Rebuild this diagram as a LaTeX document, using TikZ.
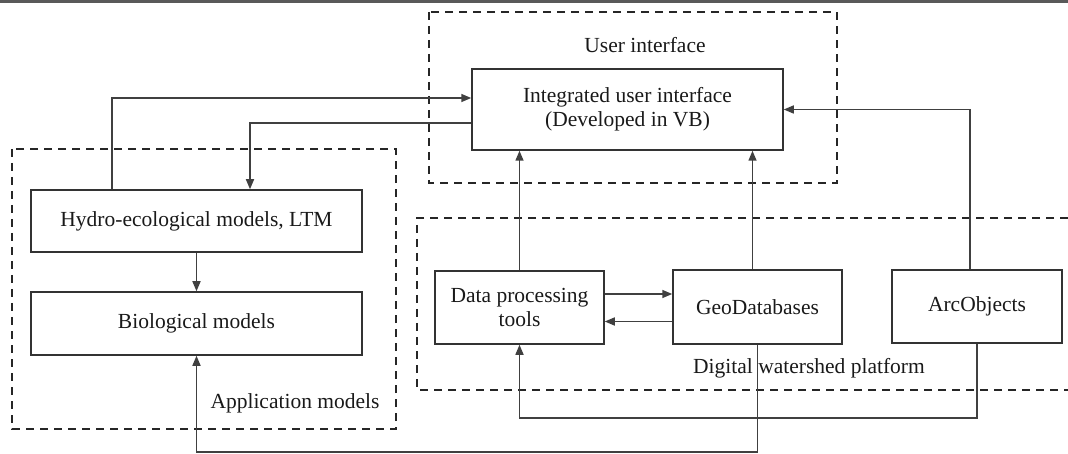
\documentclass[tikz,border=0pt]{standalone}
\usepackage{fontspec}
\setmainfont{Liberation Serif}
\usetikzlibrary{arrows.meta}
\begin{document}
\begin{tikzpicture}[x=1pt,y=-1pt,
  every node/.style={font=\fontsize{21.5}{24}\selectfont, text=black!90},
  box/.style={draw=black!80, line width=1.5pt, rectangle, inner sep=0pt, align=center},
  dashbox/.style={draw=black!85, line width=1.8pt, dash pattern=on 8pt off 6pt},
  arr/.style={draw=black!75, line width=1.5pt, -{Triangle[length=10pt,width=8pt]}},
  lab/.style={inner sep=0pt}]
\useasboundingbox (0,0) rectangle (1068,454);
% scan edge at the top
\draw[line width=3pt, black!65] (0,1.5) -- (1068,1.5);
% group frames
\draw[dashbox] (429,12) rectangle (837,183);
\draw[dashbox] (12,149) rectangle (396,429);
\draw[dashbox] (1068,218) -- (417,218) -- (417,390) -- (1068,390);
% boxes
\node[box, minimum width=311pt, minimum height=81pt] (integ) at (627.5,109.5) {Integrated user interface\\(Developed in VB)};
\node[box, minimum width=331pt, minimum height=62pt] (hydro) at (196.5,221) {Hydro-ecological models, LTM};
\node[box, minimum width=331pt, minimum height=63pt] (bio) at (196.5,323.5) {Biological models};
\node[box, minimum width=169pt, minimum height=73pt] (dp) at (519.5,307.5) {Data processing\\tools};
\node[box, minimum width=169pt, minimum height=74pt] (geo) at (757.5,307) {GeoDatabases};
\node[box, minimum width=170pt, minimum height=73pt] (arc) at (977,306.5) {ArcObjects};
% labels
\node[lab] (uilab) at (645,45) {User interface};
\node[lab] (dwlab) at (809,368) {Digital watershed platform};
\node[lab] (amlab) at (295,403) {Application models};
% rails
\coordinate (lowrail) at (0,452);
\coordinate (midrail) at (0,418);
% connectors
\draw[arr] ([xshift=-84.5pt]hydro.north) |- ([yshift=11.5pt]integ.west);
\draw[arr] ([yshift=-13.5pt]integ.west) -| ([xshift=53.5pt]hydro.north);
\draw[arr] (hydro.south) -- (bio.north);
\draw[arr] (geo.south) -- (geo.south |- lowrail) -- (bio.south |- lowrail) -- (bio.south);
\draw[arr] (arc.south) -- (arc.south |- midrail) -- (dp.south |- midrail) -- (dp.south);
\draw[arr] (dp.north) -- (dp.north |- integ.south);
\draw[arr] ([xshift=-5pt]geo.north) -- ([xshift=-5pt]geo.north |- integ.south);
\draw[arr] ([xshift=-7pt]arc.north) |- (integ.east);
\draw[arr] ([yshift=13.5pt]dp.east) -- ([yshift=13.5pt]dp.east -| geo.west);
\draw[arr] ([yshift=-14.5pt]geo.west) -- ([yshift=-14.5pt]geo.west -| dp.east);
\end{tikzpicture}
\end{document}
